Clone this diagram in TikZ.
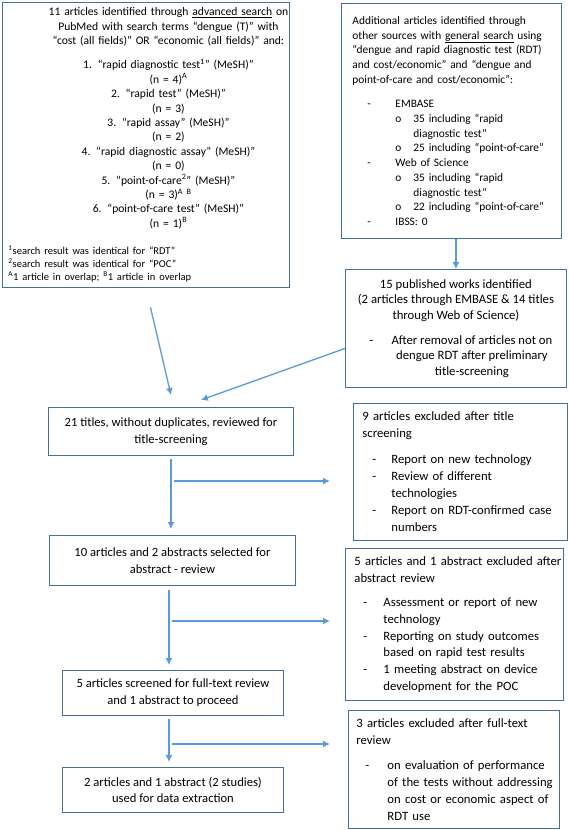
\documentclass[tikz,border=0pt]{standalone}
\usepackage{fontspec}
\setmainfont{Carlito}
\usetikzlibrary{arrows.meta}

\definecolor{boxblue}{RGB}{65,113,156}
\definecolor{arrowblue}{RGB}{91,155,213}

\hfuzz=20pt
\hyphenpenalty=10000
\newcommand{\bul}[3]{\hspace*{#1}\makebox[#2][l]{#3}}

\tikzset{
  box/.style={draw=boxblue, line width=0.9pt, anchor=north west, inner ysep=2pt},
  leftbox/.style={box, align=left},
  midbox/.style={box, align=center, font=\fontsize{12.6}{16.8}\selectfont},
  flow/.style={->, draw=arrowblue, line width=1.3pt},
}

\begin{document}
\begin{tikzpicture}[>={Latex[length=7pt,width=7pt]}, x=1pt, y=-1pt]
\useasboundingbox[fill=white] (0,0) rectangle (568,830);

% Sources
\node[leftbox, inner xsep=3pt, text width=281pt, minimum height=285pt,
      font=\fontsize{11.6}{14.4}\selectfont] (pubmed) at (2,2) {%
\hspace*{43pt}\parbox[t]{240pt}{\centering
\mbox{11 articles identified through \underline{advanced search} on}\\
PubMed with search terms “dengue (T)” with\\
“cost (all fields)” OR “economic (all fields)” and:\\[10pt]
1. “rapid diagnostic test\textsuperscript{1}” (MeSH)”\\
(n = 4)\textsuperscript{A}\\
2. “rapid test” (MeSH)”\\
(n = 3)\\
3. “rapid assay” (MeSH)”\\
(n = 2)\\
4. “rapid diagnostic assay” (MeSH)”\\
(n = 0)\\
5. “point-of-care\textsuperscript{2}” (MeSH)”\\
(n = 3)\textsuperscript{A B}\\
6. “point-of-care test” (MeSH)”\\
(n = 1)\textsuperscript{B}}\\[16pt]
\hspace*{3pt}\parbox[t]{270pt}{\fontsize{10.5}{13}\selectfont
\textsuperscript{1}search result was identical for “RDT”\\
\textsuperscript{2}search result was identical for “POC”\\
\textsuperscript{A}1 article in overlap; \textsuperscript{B}1 article in overlap}};

\node[leftbox, inner xsep=11pt, text width=198pt, minimum height=235pt,
      font=\fontsize{11.4}{14.7}\selectfont] (other) at (341,3) {%
Additional articles identified through\\
other sources with \underline{general search} using\\
“dengue and rapid diagnostic test (RDT)\\
and cost/economic” and “dengue and\\
point-of-care and cost/economic”:\\[10pt]
\bul{15pt}{28pt}{-}EMBASE\\
\bul{43pt}{18pt}{o}35 including “rapid\\
\hspace*{61pt}diagnostic test”\\
\bul{43pt}{18pt}{o}\mbox{25 including “point-of-care”}\\
\bul{15pt}{28pt}{-}Web of Science\\
\bul{43pt}{18pt}{o}35 including “rapid\\
\hspace*{61pt}diagnostic test”\\
\bul{43pt}{18pt}{o}\mbox{22 including “point-of-care”}\\
\bul{15pt}{28pt}{-}IBSS: 0};

\node[midbox, minimum width=221pt, minimum height=118pt,
      font=\fontsize{12.7}{15.7}\selectfont] (pub) at (345,269) {%
15 published works identified\\
(2 articles through EMBASE \& 14 titles\\
through Web of Science)\\[9pt]
\hspace*{12pt}\makebox[20pt][l]{-}\parbox[t]{165pt}{\centering
After removal of articles not on\\
dengue RDT after preliminary\\
title-screening}};

% Screening
\node[midbox, minimum width=245pt, minimum height=48pt] (title) at (48,407)
  {21 titles, without duplicates, reviewed for\\title-screening};
\node[midbox, minimum width=246pt, minimum height=50pt] (abstr) at (49,535)
  {10 articles and 2 abstracts selected for\\abstract - review};
\node[midbox, minimum width=221pt, minimum height=45pt] (fullt) at (62,670)
  {5 articles screened for full-text review\\and 1 abstract to proceed};
\node[midbox, minimum width=221pt, minimum height=45pt] (final) at (62,767)
  {2 articles and 1 abstract (2 studies)\\used for data extraction};

% Exclusions
\node[leftbox, inner xsep=9pt, text width=196pt, minimum height=137pt,
      font=\fontsize{12.7}{17}\selectfont] (excl1) at (353,403) {%
9 articles excluded after title\\
screening\\[9pt]
\bul{10pt}{19pt}{-}Report on new technology\\
\bul{10pt}{19pt}{-}Review of different\\
\hspace*{29pt}technologies\\
\bul{10pt}{19pt}{-}\mbox{Report on RDT-confirmed case}\\
\hspace*{29pt}numbers};

\node[leftbox, inner xsep=6pt, text width=206pt, minimum height=152pt,
      font=\fontsize{12.7}{16.7}\selectfont] (excl2) at (345,548) {%
\hspace*{3pt}\mbox{5 articles and 1 abstract excluded after}\\
\hspace*{3pt}abstract review\\[8pt]
\bul{12pt}{20pt}{-}\mbox{Assessment or report of new}\\
\hspace*{32pt}technology\\
\bul{12pt}{20pt}{-}\mbox{Reporting on study outcomes}\\
\hspace*{32pt}\mbox{based on rapid test results}\\
\bul{12pt}{20pt}{-}\mbox{1 meeting abstract on device}\\
\hspace*{32pt}\mbox{development for the POC}};

\node[leftbox, inner xsep=8pt, text width=195pt, minimum height=118pt,
      font=\fontsize{12.7}{16.8}\selectfont] (excl3) at (348,710) {%
\mbox{3 articles excluded after full-text}\\
review\\[9pt]
\bul{9pt}{22pt}{-}\mbox{on evaluation of performance}\\
\hspace*{31pt}\mbox{of the tests without addressing}\\
\hspace*{31pt}\mbox{on cost or economic aspect of}\\
\hspace*{31pt}RDT use};

\coordinate (x1) at (330,481);
\coordinate (x2) at (330,621);
\coordinate (x3) at (330,744);

% Arrows
\draw[flow] (other.south -| pub.north) -- (pub.north);
\draw[flow, shorten <=20pt] (pubmed.south) -- ([yshift=12pt]title.north);
\draw[flow] ([yshift=-20pt]pub.west) -- ([xshift=30pt, yshift=7pt]title.north);

\draw[flow, shorten <=3pt, shorten >=6pt] (title.south) -- (title.south |- abstr.north);
\draw[flow, shorten <=4pt, shorten >=5pt] ([xshift=-4pt]fullt.north |- abstr.south) -- ([xshift=-4pt]fullt.north);
\draw[flow, shorten <=3pt, shorten >=5pt] ([xshift=-4pt]fullt.south) -- ([xshift=-4pt]final.north);

\draw[flow] ([xshift=3pt]title.south |- x1) -- (x1);
\draw[flow] ([xshift=-1pt]fullt.north |- x2) -- (x2);
\draw[flow] ([xshift=-1pt]fullt.north |- x3) -- (x3);

\end{tikzpicture}
\end{document}
